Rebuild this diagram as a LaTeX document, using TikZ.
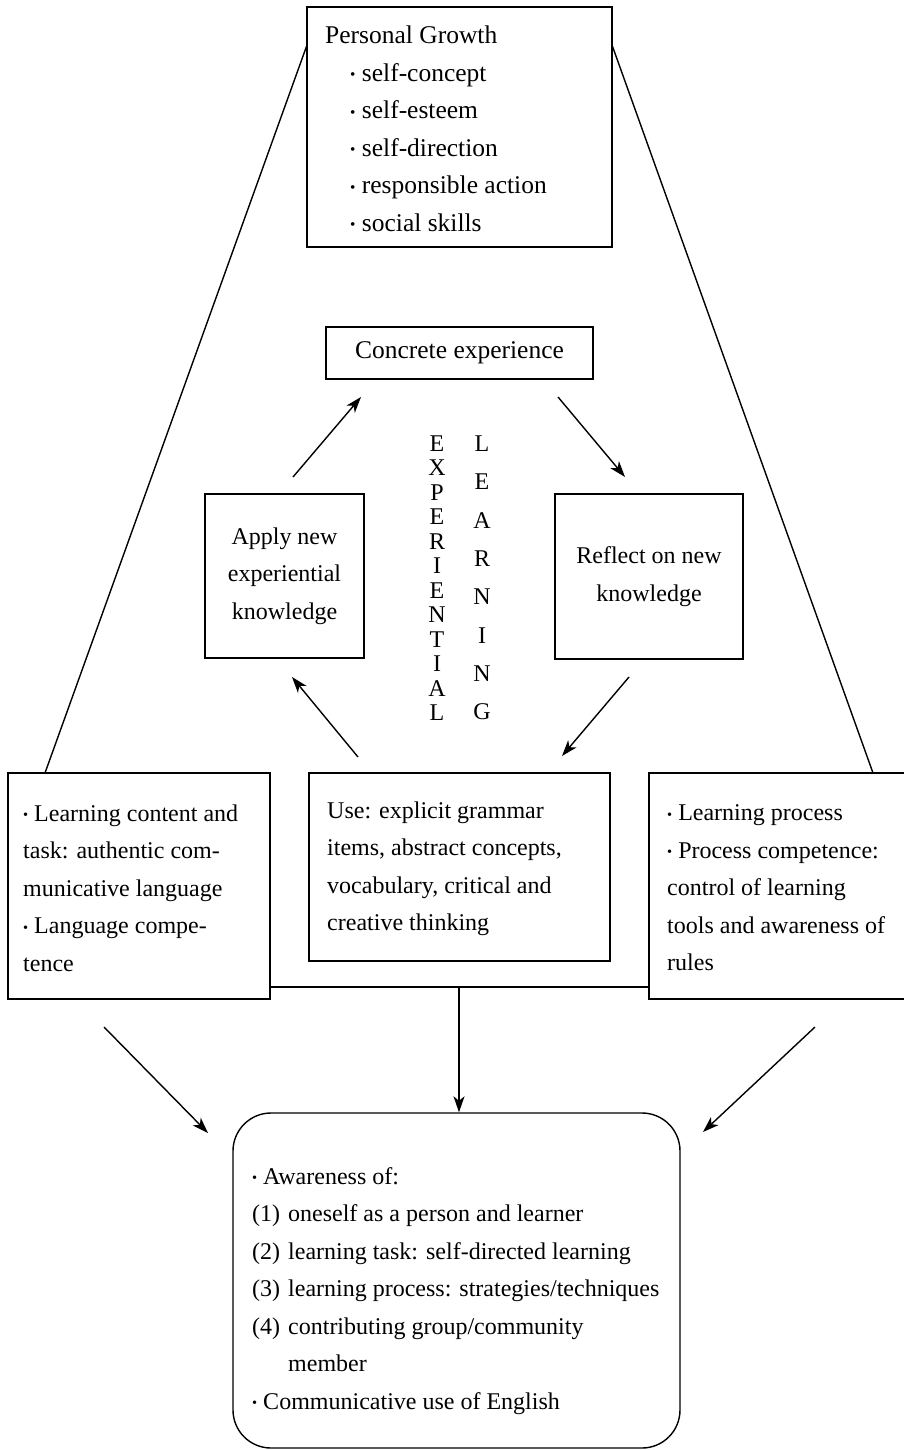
\documentclass[tikz,border=0pt]{standalone}
\usepackage{fontspec}
\setmainfont{Liberation Serif}
\usetikzlibrary{arrows.meta}
\newcommand\bdot{\raisebox{0.06em}{\scalebox{0.6}{•}}}
\begin{document}
\begin{tikzpicture}[x=1pt,y=-1pt,
  box/.style={draw, line width=1.4pt, inner sep=0pt},
  txt/.style={font=\fontsize{24}{37.5}\selectfont, inner sep=0pt},
  bigtxt/.style={font=\fontsize{25.5}{37.5}\selectfont, inner sep=0pt},
  arr/.style={line width=1.4pt, -{Stealth[length=16pt,width=11pt,inset=4.5pt]}},
  ln/.style={line width=1.4pt}]
\useasboundingbox (0,0) rectangle (903,1450);

% Personal growth
\node[box, minimum width=305pt, minimum height=240pt] (pg) at (459.5,127) {};
\node[bigtxt, anchor=west, align=left] (pgt) at (325,129) {Personal Growth\\
\hspace*{25pt}\bdot\ self-concept\\
\hspace*{25pt}\bdot\ self-esteem\\
\hspace*{25pt}\bdot\ self-direction\\
\hspace*{25pt}\bdot\ responsible action\\
\hspace*{25pt}\bdot\ social skills};

% cycle boxes
\node[box, bigtxt, minimum width=267pt, minimum height=52pt] (ce) at (459.5,353) {Concrete experience};
\node[box, txt, minimum width=159pt, minimum height=164pt, align=center] (ap) at (284.5,576) {Apply new\\experiential\\knowledge};
\node[box, txt, minimum width=188pt, minimum height=165pt, align=center] (rf) at (649,576.5) {Reflect on new\\knowledge};

% vertical words
\node[font=\fontsize{24}{24.5}\selectfont, align=center, inner sep=0pt] (exw) at (437,578) {E\\X\\P\\E\\R\\I\\E\\N\\T\\I\\A\\L};
\node[font=\fontsize{24}{38.3}\selectfont, align=center, inner sep=0pt] (lnw) at (482,578) {L\\E\\A\\R\\N\\I\\N\\G};

% bottom row boxes
\node[box, minimum width=262pt, minimum height=226pt] (lb) at (139,886) {};
\node[txt, anchor=west, align=left] (lbt) at (23,888) {\bdot\ Learning content and\\
task: authentic com-\\
municative language\\
\bdot\ Language compe-\\
tence};
\node[box, minimum width=301pt, minimum height=188pt] (mb) at (459.5,867) {};
\node[txt, anchor=west, align=left] (mbt) at (327,869) {Use: explicit grammar\\
items, abstract concepts,\\
vocabulary, critical and\\
creative thinking};
\node[box, minimum width=260pt, minimum height=226pt] (rb) at (779,886) {};
\node[txt, anchor=west, align=left] (rbt) at (667,888) {\bdot\ Learning process\\
\bdot\ Process competence:\\
control of learning\\
tools and awareness of\\
rules};

% outcome box
\node[box, rounded corners=38pt, minimum width=447pt, minimum height=335pt] (ob) at (456.5,1280.5) {};
\node[txt, anchor=west, align=left] (obt) at (252,1291) {\bdot\ Awareness of:\\
(1)\hspace{8pt}oneself as a person and learner\\
(2)\hspace{8pt}learning task: self-directed learning\\
(3)\hspace{8pt}learning process: strategies/techniques\\
(4)\hspace{8pt}contributing group/community\\
\hphantom{(4)}\hspace{8pt}member\\
\bdot\ Communicative use of English};

% trapezoid sides
\coordinate (pgl) at (307,45);
\coordinate (pgr) at (612,45);
\coordinate (lbtop) at (45,773);
\coordinate (rbtop) at (873,773);
\draw[ln] (pgl) -- (lbtop);
\draw[ln] (pgr) -- (rbtop);

% cycle arrows
\coordinate (a1s) at (293,477); \coordinate (a1e) at (361,397);
\coordinate (a2s) at (558,397); \coordinate (a2e) at (625,477);
\coordinate (a3s) at (629,677); \coordinate (a3e) at (562,756);
\coordinate (a4s) at (358,757); \coordinate (a4e) at (292,677);
\draw[arr] (a1s) -- (a1e);
\draw[arr] (a2s) -- (a2e);
\draw[arr] (a3s) -- (a3e);
\draw[arr] (a4s) -- (a4e);

% connector bar and arrows to outcome
\coordinate (barm) at (459,987);
\draw[ln] (lb.east |- barm) -- (rb.west |- barm);
\draw[arr] (barm) -- (barm |- ob.north);
\coordinate (b1s) at (104,1027); \coordinate (b1e) at (208,1133);
\coordinate (b2s) at (815,1027); \coordinate (b2e) at (703,1132);
\draw[arr] (b1s) -- (b1e);
\draw[arr] (b2s) -- (b2e);
\end{tikzpicture}
\end{document}
